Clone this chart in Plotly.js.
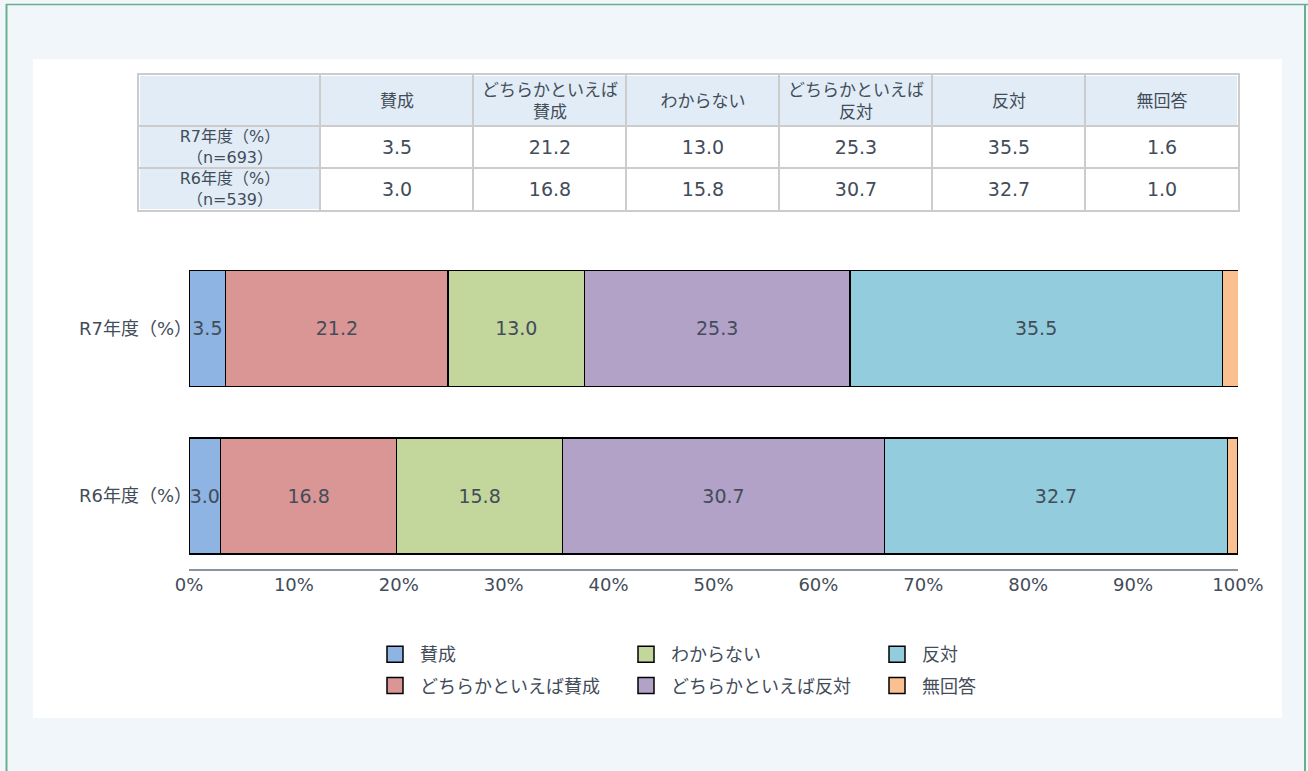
<!DOCTYPE html>
<html>
<head>
<meta charset="utf-8">
<script src="https://cdn.plot.ly/plotly-3.0.1.min.js"></script>
<style>
html,body{margin:0;padding:0;background:#f0f6fa;}
#chart{width:1308px;height:771px;}
</style>
</head>
<body>
<div id="chart"></div>
<script>
// ---- data ----
const categories = ['賛成', 'どちらかといえば賛成', 'わからない', 'どちらかといえば反対', '反対', '無回答'];
const headerLabels = ['賛成', 'どちらかといえば<br>賛成', 'わからない', 'どちらかといえば<br>反対', '反対', '無回答'];
const years = ['R7年度（%）', 'R6年度（%）'];
const sampleSizes = ['（n=693）', '（n=539）'];
const r7Values = [3.5, 21.2, 13.0, 25.3, 35.5, 1.6];
const r6Values = [3.0, 16.8, 15.8, 30.7, 32.7, 1.0];
const colors = ['#8eb4e3', '#d99694', '#c3d69b', '#b3a2c7', '#93cddd', '#fac090'];
const legendIds = ['legend', 'legend', 'legend2', 'legend2', 'legend3', 'legend3'];

// ---- style / layout constants ----
const FONT = '"DejaVu Sans", "Noto Sans CJK JP", sans-serif';
const TXT = '#434c59';
const HEAD_BG = '#e1ecf6';
const GRID = '#cccccc';
const LABEL_COL_W = 181, COL_W = 153;          // table column widths (px)
const HEAD_H = 51, ROW_H = 42;                 // table row heights (px)

const W = 1099, H = 494, L = 139, T = 75;      // plot area
const px = v => (v - L) / W;
const py = v => (T + H - v) / H;

// table grid edges in table-axis units
const colEdges = [0];
for (let j = 0; j <= categories.length; j++) colEdges.push(colEdges[j] + (j === 0 ? LABEL_COL_W : COL_W));
const rowEdges = [0, HEAD_H];
years.forEach(() => rowEdges.push(rowEdges[rowEdges.length - 1] + ROW_H));
const tableW = colEdges[colEdges.length - 1];
const tableH = rowEdges[rowEdges.length - 1];

const traces = [];
const solid = c => [[0, c], [1, c]];
const heatBase = {
  type: 'heatmap', xaxis: 'x2', yaxis: 'y2', showscale: false, zmin: 0, zmax: 1,
  xgap: 2, ygap: 2, hoverinfo: 'skip', texttemplate: '%{text}'
};

// header row
traces.push(Object.assign({}, heatBase, {
  x: colEdges, y: rowEdges.slice(0, 2),
  z: [colEdges.slice(1).map(() => 0)],
  text: [[''].concat(headerLabels)],
  colorscale: solid(HEAD_BG),
  textfont: {family: FONT, size: 17, color: TXT}
}));
// row label column
traces.push(Object.assign({}, heatBase, {
  x: colEdges.slice(0, 2), y: rowEdges.slice(1),
  z: years.map(() => [0]),
  text: years.map((y, i) => [y + '<br>' + sampleSizes[i]]),
  colorscale: solid(HEAD_BG),
  textfont: {family: FONT, size: 16, color: TXT}
}));
// value cells
traces.push(Object.assign({}, heatBase, {
  x: colEdges.slice(1), y: rowEdges.slice(1),
  z: [r7Values.map(() => 1), r6Values.map(() => 1)],
  text: [r7Values.map(v => v.toFixed(1)), r6Values.map(v => v.toFixed(1))],
  colorscale: solid('#ffffff'),
  textfont: {family: FONT, size: 19, color: TXT}
}));

// bars
categories.forEach((c, j) => {
  const vals = [r7Values[j], r6Values[j]];
  traces.push({
    type: 'bar',
    orientation: 'h',
    name: c,
    y: years,
    x: vals,
    text: vals.map(v => v.toFixed(1)),
    textposition: j === categories.length - 1 ? 'none' : 'inside',
    insidetextanchor: 'middle',
    textangle: 0,
    constraintext: 'none',
    textfont: {family: FONT, size: 19, color: TXT},
    marker: {color: colors[j], line: {color: '#000000', width: 1.5}},
    showlegend: false,
    hoverinfo: 'skip'
  });
});

// legend entries
categories.forEach((c, j) => {
  traces.push({
    type: 'scatter',
    mode: 'markers',
    name: c,
    x: [null],
    y: [null],
    legend: legendIds[j],
    legendgroup: 'g' + j,
    marker: {symbol: 'square', size: 16, color: colors[j], line: {color: '#000000', width: 1.5}},
    showlegend: true,
    hoverinfo: 'skip'
  });
});

const legendBase = {
  orientation: 'v',
  xanchor: 'left',
  yanchor: 'top',
  y: py(636),
  bgcolor: 'rgba(0,0,0,0)',
  font: {family: FONT, size: 18, color: TXT},
  traceorder: 'grouped',
  tracegroupgap: 5,
  itemwidth: 40
};

const layout = {
  width: 1308,
  height: 771,
  margin: {l: L, r: 1308 - L - W, t: T, b: 771 - T - H},
  paper_bgcolor: '#f0f6fa',
  plot_bgcolor: 'rgba(0,0,0,0)',
  barmode: 'stack',
  bargap: 0.31,
  font: {family: FONT, size: 18, color: TXT},
  xaxis: {
    domain: [(189 - L) / W, 1],
    range: [0, 100],
    dtick: 10,
    ticksuffix: '%',
    showgrid: false,
    zeroline: false,
    showline: true,
    linecolor: '#8a949e',
    linewidth: 2,
    ticks: '',
    ticklabelstandoff: -2,
    tickfont: {family: FONT, size: 18, color: TXT},
    fixedrange: true
  },
  yaxis: {
    domain: [0, (569 - 245) / H],
    type: 'category',
    range: [1.436, -0.4985],
    showgrid: false,
    zeroline: false,
    showline: false,
    ticks: '',
    ticklabelstandoff: -4,
    tickfont: {family: FONT, size: 18, color: TXT},
    fixedrange: true
  },
  xaxis2: {
    anchor: 'y2',
    domain: [0, tableW / W],
    range: [0, tableW],
    tickvals: colEdges,
    showticklabels: false,
    showgrid: true, gridcolor: GRID, gridwidth: 2,
    zeroline: false,
    showline: true, mirror: true, linecolor: GRID, linewidth: 2,
    ticks: '', fixedrange: true
  },
  yaxis2: {
    anchor: 'x2',
    domain: [1 - tableH / H, 1],
    range: [tableH, 0],
    tickvals: rowEdges,
    showticklabels: false,
    showgrid: true, gridcolor: GRID, gridwidth: 2,
    zeroline: false,
    showline: true, mirror: true, linecolor: GRID, linewidth: 2,
    ticks: '', fixedrange: true
  },
  legend: Object.assign({}, legendBase, {x: px(370)}),
  legend2: Object.assign({}, legendBase, {x: px(621)}),
  legend3: Object.assign({}, legendBase, {x: px(872)}),
  shapes: [
    {type: 'rect', xref: 'paper', yref: 'paper', x0: px(33), x1: px(1282), y0: py(718), y1: py(59),
     fillcolor: '#ffffff', line: {width: 0}, layer: 'below'},
    {type: 'line', xref: 'paper', yref: 'paper', x0: px(6), x1: px(1308), y0: py(4.5), y1: py(4.5),
     line: {color: '#68b08c', width: 1.5}, layer: 'above'},
    {type: 'line', xref: 'paper', yref: 'paper', x0: px(6.5), x1: px(6.5), y0: py(4), y1: py(771),
     line: {color: '#68b08c', width: 2}, layer: 'above'},
    {type: 'line', xref: 'paper', yref: 'paper', x0: px(1305), x1: px(1305), y0: py(4), y1: py(771),
     line: {color: '#68b08c', width: 2}, layer: 'above'}
  ]
};

Plotly.newPlot('chart', traces, layout, {displayModeBar: false, staticPlot: true});
</script>
</body>
</html>
